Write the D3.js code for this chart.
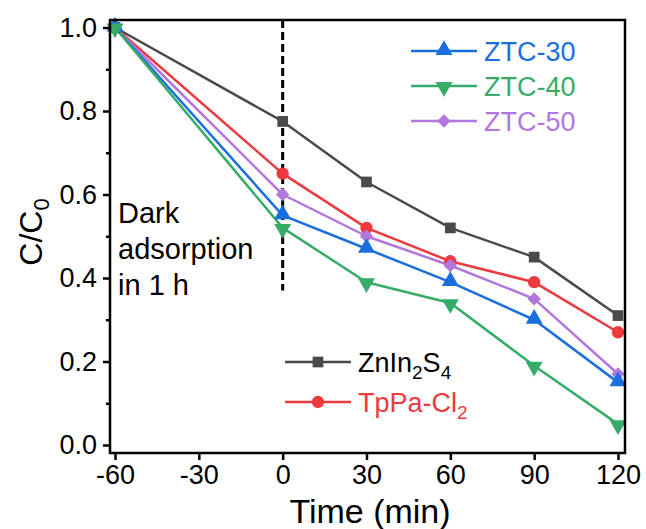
<!DOCTYPE html>
<html>
<head>
<meta charset="utf-8">
<script src="https://cdn.jsdelivr.net/npm/d3@7"></script>
<style>
  html, body { margin: 0; padding: 0; background: #fff; }
  svg { display: block; font-family: "Liberation Sans", Arial, sans-serif; }
</style>
</head>
<body>
<svg id="chart" width="646" height="529"></svg>
<script>
// Sampling times (min); negative values are the dark adsorption period
const times = [-60, 0, 30, 60, 90, 120];

// C/C0 for each photocatalyst
const znIn2S4 = [1.0, 0.775, 0.63, 0.52, 0.45, 0.31];
const tpPaCl2 = [1.0, 0.65, 0.52, 0.44, 0.39, 0.27];
const ztc30   = [1.0, 0.55, 0.47, 0.39, 0.30, 0.15];
const ztc40   = [1.0, 0.52, 0.39, 0.34, 0.19, 0.05];
const ztc50   = [1.0, 0.60, 0.50, 0.43, 0.35, 0.17];

const xTicks = [-60, -30, 0, 30, 60, 90, 120];
const xTickLabels = ["-60", "-30", "0", "30", "60", "90", "120"];
const yTicks = [0.0, 0.2, 0.4, 0.6, 0.8, 1.0];
const yTickLabels = ["0.0", "0.2", "0.4", "0.6", "0.8", "1.0"];
const yMinorTicks = [0.1, 0.3, 0.5, 0.7, 0.9];

const series = [
  { key: "ZnIn2S4", values: znIn2S4, color: "#4a4a4a", marker: "square" },
  { key: "TpPa-Cl2", values: tpPaCl2, color: "#ec3a3f", marker: "circle" },
  { key: "ZTC-50", values: ztc50, color: "#b277de", marker: "diamond" },
  { key: "ZTC-30", values: ztc30, color: "#1a6fde", marker: "up" },
  { key: "ZTC-40", values: ztc40, color: "#36ac69", marker: "down" }
];
const byKey = Object.fromEntries(series.map(s => [s.key, s]));

const svg = d3.select("#chart");
const frame = { left: 110, right: 625, top: 20, bottom: 453 };

const x = d3.scaleLinear().domain([-60, 120]).range([115, 618]);
const y = d3.scaleLinear().domain([0, 1]).range([445, 27.5]);

// Marker path generator
function markerPath(type) {
  if (type === "square") return d3.symbol(d3.symbolSquare, 115)();
  if (type === "circle") return d3.symbol(d3.symbolCircle, 120)();
  if (type === "diamond") return d3.symbol(d3.symbolSquare, 90)();
  return d3.symbol(d3.symbolTriangle, 125)();
}
function markerTransform(type, px, py) {
  if (type === "diamond") return `translate(${px},${py}) rotate(45)`;
  if (type === "down") return `translate(${px},${py + 1}) rotate(180)`;
  if (type === "up") return `translate(${px},${py - 1})`;
  return `translate(${px},${py})`;
}

// Dark-period divider at t = 0
svg.append("line")
  .attr("x1", x(0)).attr("x2", x(0))
  .attr("y1", frame.top).attr("y2", y(0.37))
  .attr("stroke", "#000").attr("stroke-width", 3)
  .attr("stroke-dasharray", "8,4");

// Data lines and markers
const line = d3.line().x((d, i) => x(times[i])).y(d => y(d));
series.forEach(s => {
  svg.append("path")
    .attr("d", line(s.values))
    .attr("fill", "none")
    .attr("stroke", s.color)
    .attr("stroke-width", 2.5)
    .attr("stroke-linejoin", "round");
});
series.forEach(s => {
  svg.append("g").selectAll("path")
    .data(s.values)
    .join("path")
    .attr("d", markerPath(s.marker))
    .attr("transform", (d, i) => markerTransform(s.marker, x(times[i]), y(d)))
    .attr("fill", s.color);
});

// Frame
svg.append("rect")
  .attr("x", frame.left).attr("y", frame.top)
  .attr("width", frame.right - frame.left).attr("height", frame.bottom - frame.top)
  .attr("fill", "none").attr("stroke", "#000").attr("stroke-width", 2.5);

// Y axis
const yAxis = svg.append("g")
  .attr("transform", `translate(${frame.left},0)`)
  .call(d3.axisLeft(y).tickValues(yTicks)
    .tickFormat((d, i) => yTickLabels[i]).tickSize(7).tickPadding(6));
yAxis.select(".domain").remove();
yAxis.selectAll(".tick line").attr("stroke-width", 2.5);
yAxis.selectAll(".tick text").attr("font-size", 27).attr("font-family", "Liberation Sans, Arial, sans-serif").attr("fill", "#000");
svg.append("g")
  .attr("transform", `translate(${frame.left},0)`)
  .call(d3.axisLeft(y).tickValues(yMinorTicks).tickFormat("").tickSize(4))
  .call(g => g.select(".domain").remove())
  .call(g => g.selectAll(".tick text").remove())
  .selectAll(".tick line").attr("stroke-width", 2.5);

// X axis
const xAxis = svg.append("g")
  .attr("transform", `translate(0,${frame.bottom})`)
  .call(d3.axisBottom(x).tickValues(xTicks)
    .tickFormat((d, i) => xTickLabels[i]).tickSize(7).tickPadding(5));
xAxis.select(".domain").remove();
xAxis.selectAll(".tick line").attr("stroke-width", 2.5);
xAxis.selectAll(".tick text").attr("font-size", 27).attr("font-family", "Liberation Sans, Arial, sans-serif").attr("fill", "#000");

// Axis titles
svg.append("text")
  .attr("x", 370).attr("y", 523)
  .attr("text-anchor", "middle")
  .attr("font-size", 34)
  .text("Time (min)");

const yTitle = svg.append("text")
  .attr("transform", "translate(42,232) rotate(-90)")
  .attr("text-anchor", "middle")
  .attr("font-size", 32);
yTitle.append("tspan").text("C/C");
yTitle.append("tspan").attr("font-size", 22).attr("dy", 7).text("0");

// Annotation for the dark period
const note = svg.append("text").attr("font-size", 29).attr("fill", "#000");
["Dark", "adsorption", "in 1 h"].forEach((t, i) => {
  note.append("tspan").attr("x", 118).attr("y", 223 + i * 36).text(t);
});

// Legends
function legendRow(s, lx, ly, label) {
  svg.append("line")
    .attr("x1", lx).attr("x2", lx + 66)
    .attr("y1", ly).attr("y2", ly)
    .attr("stroke", s.color).attr("stroke-width", 2.5);
  svg.append("path")
    .attr("d", markerPath(s.marker))
    .attr("transform", markerTransform(s.marker, lx + 33, ly))
    .attr("fill", s.color);
  const t = svg.append("text")
    .attr("x", lx + 73).attr("y", ly + 10)
    .attr("font-size", 27)
    .attr("fill", label.color || s.color);
  let shifted = false;
  label.parts.forEach(p => {
    const ts = t.append("tspan").text(p.text);
    if (p.sub) {
      ts.attr("font-size", 19).attr("dy", shifted ? 0 : 7);
      shifted = true;
    } else if (shifted) {
      ts.attr("dy", -7);
      shifted = false;
    }
  });
}

legendRow(byKey["ZTC-30"], 411, 51, { parts: [{ text: "ZTC-30" }] });
legendRow(byKey["ZTC-40"], 411, 86, { parts: [{ text: "ZTC-40" }] });
legendRow(byKey["ZTC-50"], 411, 121, { parts: [{ text: "ZTC-50" }] });

legendRow(byKey["ZnIn2S4"], 285, 362, {
  color: "#000",
  parts: [{ text: "ZnIn" }, { text: "2", sub: true }, { text: "S" }, { text: "4", sub: true }]
});
legendRow(byKey["TpPa-Cl2"], 285, 402, {
  parts: [{ text: "TpPa-Cl" }, { text: "2", sub: true }]
});
</script>
</body>
</html>
